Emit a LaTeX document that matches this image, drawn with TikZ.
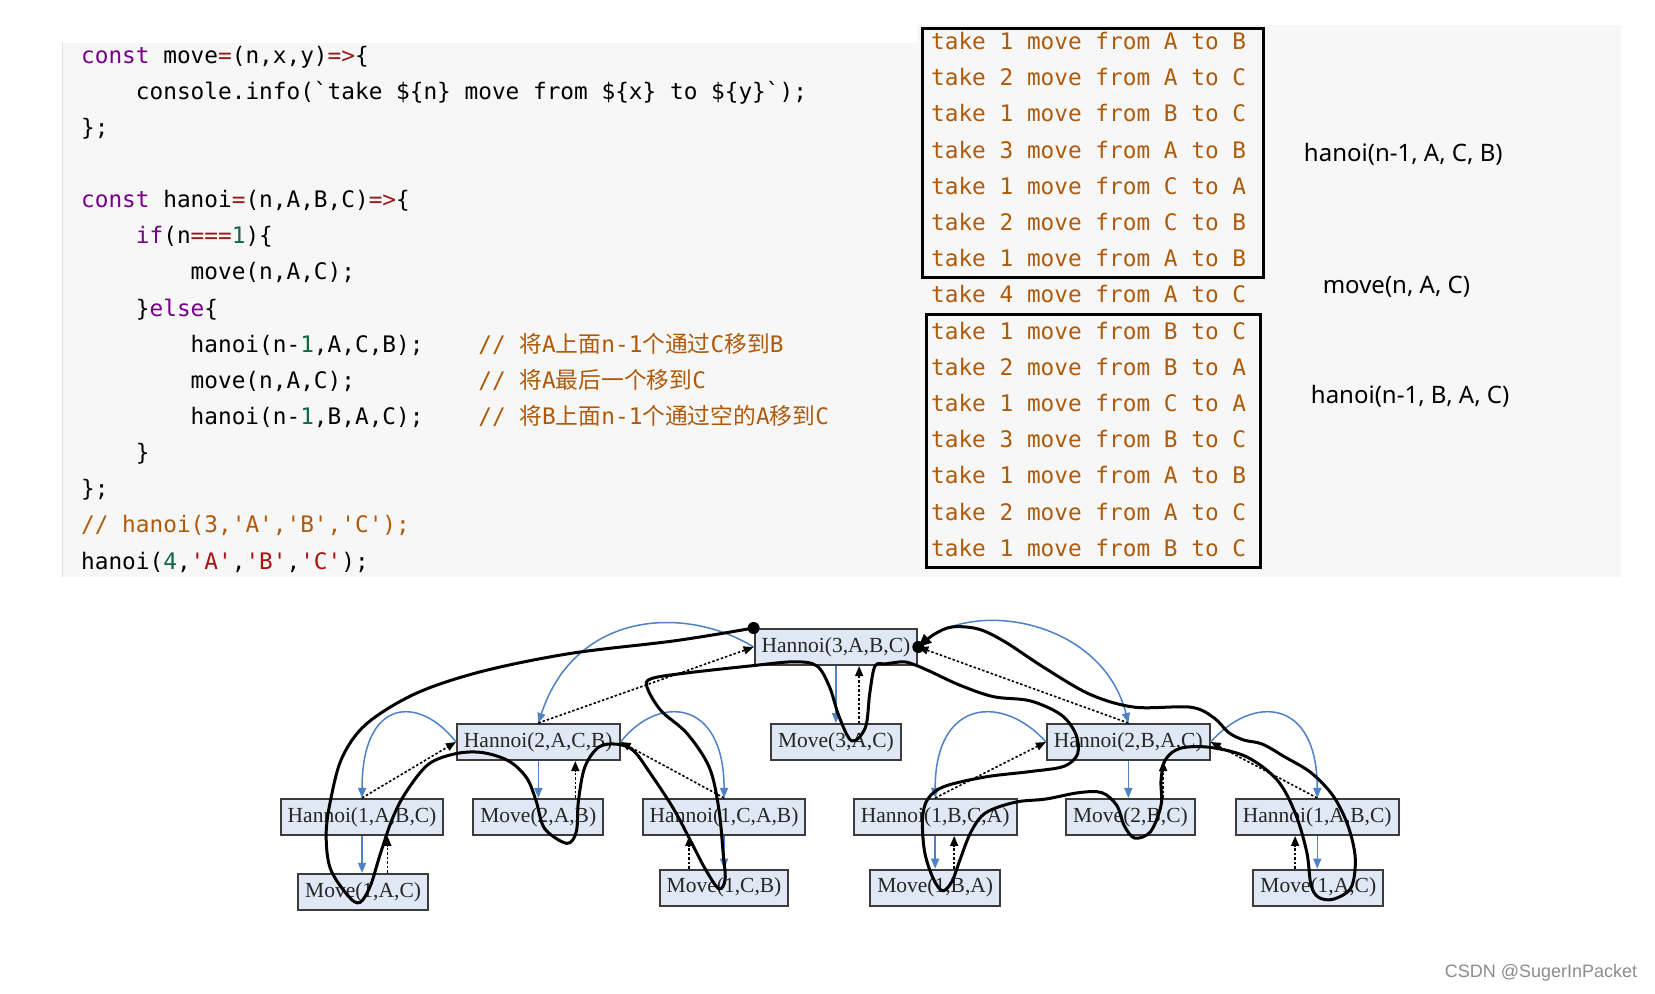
\documentclass[tikz,border=0pt]{standalone}
\usepackage{fontspec}
\setmainfont{Liberation Serif}
\setmonofont{DejaVu Sans Mono}
\newfontfamily\cjk{Noto Sans CJK SC}
\newfontfamily\uisans{Noto Sans}
\newfontfamily\wmfont{Liberation Sans}
\usetikzlibrary{arrows.meta,calc}
\definecolor{kwc}{RGB}{119,0,136}
\definecolor{opc}{RGB}{152,26,26}
\definecolor{numc}{RGB}{17,102,68}
\definecolor{strc}{RGB}{170,17,17}
\definecolor{cmc}{RGB}{175,90,10}
\definecolor{codebg}{RGB}{247,247,247}
\definecolor{nodefill}{RGB}{224,232,245}
\definecolor{nodeborder}{RGB}{60,60,60}
\definecolor{arrowblue}{RGB}{79,129,199}
\newcommand{\mycodefont}{\ttfamily\fontsize{22.75}{27}\selectfont}
\newcommand{\ckw}[1]{\textcolor{kwc}{#1}}
\newcommand{\cop}[1]{\textcolor{opc}{#1}}
\newcommand{\cnum}[1]{\textcolor{numc}{#1}}
\newcommand{\cstr}[1]{\textcolor{strc}{#1}}
\newcommand{\ccm}[1]{\textcolor{cmc}{#1}}
\begin{document}
\begin{tikzpicture}[x=1.0555pt, y=-1.0555pt,
  codeline/.style={anchor=base west, inner sep=0pt, font=\mycodefont},
  outline/.style={anchor=base west, inner sep=0pt, font=\mycodefont, text=cmc},
  consolebox/.style={draw=black, line width=3pt},
  sidelabel/.style={inner sep=0pt, font=\uisans\fontsize{24}{28}\selectfont},
  hnode/.style={draw=nodeborder, line width=2pt, fill=nodefill, text=black!85,
    font=\fontsize{21.5}{24}\selectfont, inner xsep=7pt, inner ysep=0pt, minimum height=36pt},
  bluearrow/.style={draw=arrowblue, line width=1.5pt, -{Triangle[length=10pt,width=8pt]}},
  retarrow/.style={draw=black, line width=1.6pt, dash pattern=on 2.5pt off 2pt, -{Triangle[length=10pt,width=8pt]}},
  tour/.style={draw=black, line width=3pt, line cap=round, line join=round},
  tourdot/.style={fill=black}
]
\useasboundingbox (0,0) rectangle (1568,941);
\fill[white] (0,0) rectangle (1568,941);
% code backgrounds
\fill[codebg] (58.7,40.7) rectangle (869,546.6);
\fill[codebg] (869,23.7) rectangle (1535.7,546.6);
\draw[black!12, line width=1.5pt] (59.2,40.7) -- (59.2,546.6);

% code lines
\node[codeline] (c1) at (76.7,59.7) {\ckw{const} move\cop{=}(n,x,y)\cop{=>}\{};
\node[codeline] (c2) at (128.6,93.95) {console.info(`take \$\{n\} move from \$\{x\} to \$\{y\}`);};
\node[codeline] (c3) at (76.7,128.2) {\};};
\node[codeline] (c5) at (76.7,196.7) {\ckw{const} hanoi\cop{=}(n,A,B,C)\cop{=>}\{};
\node[codeline] (c6) at (128.6,230.95) {\ckw{if}(n\cop{===}\cnum{1})\{};
\node[codeline] (c7) at (180.5,265.2) {move(n,A,C);};
\node[codeline] (c8) at (128.6,299.45) {\}\ckw{else}\{};
\node[codeline] (c9) at (180.5,333.7) {hanoi(n-\cnum{1},A,C,B);};
\node[codeline] (m9) at (453,333.7) {\ccm{// {\cjk 将}A{\cjk 上面}n-1{\cjk 个通过}C{\cjk 移到}B}};
\node[codeline] (c10) at (180.5,367.95) {move(n,A,C);};
\node[codeline] (m10) at (453,367.95) {\ccm{// {\cjk 将}A{\cjk 最后一个移到}C}};
\node[codeline] (c11) at (180.5,402.2) {hanoi(n-\cnum{1},B,A,C);};
\node[codeline] (m11) at (453,402.2) {\ccm{// {\cjk 将}B{\cjk 上面}n-1{\cjk 个通过空的}A{\cjk 移到}C}};
\node[codeline] (c12) at (128.6,436.45) {\}};
\node[codeline] (c13) at (76.7,470.7) {\};};
\node[codeline] (c14) at (76.7,504.95) {\ccm{// hanoi(3,'A','B','C');}};
\node[codeline] (c15) at (76.7,539.2) {hanoi(\cnum{4},\cstr{'A'},\cstr{'B'},\cstr{'C'});};

% console output
\node[outline] (o1) at (882,46.8) {take 1 move from A to B};
\node[outline] (o2) at (882,81.1) {take 2 move from A to C};
\node[outline] (o3) at (882,115.4) {take 1 move from B to C};
\node[outline] (o4) at (882,149.7) {take 3 move from A to B};
\node[outline] (o5) at (882,184.0) {take 1 move from C to A};
\node[outline] (o6) at (882,218.3) {take 2 move from C to B};
\node[outline] (o7) at (882,252.6) {take 1 move from A to B};
\node[outline] (o8) at (882,286.9) {take 4 move from A to C};
\node[outline] (o9) at (882,321.2) {take 1 move from B to C};
\node[outline] (o10) at (882,355.5) {take 2 move from B to A};
\node[outline] (o11) at (882,389.8) {take 1 move from C to A};
\node[outline] (o12) at (882,424.1) {take 3 move from B to C};
\node[outline] (o13) at (882,458.4) {take 1 move from A to B};
\node[outline] (o14) at (882,492.7) {take 2 move from A to C};
\node[outline] (o15) at (882,527.0) {take 1 move from B to C};
\draw[consolebox] (874,26.8) rectangle (1197.5,263);
\draw[consolebox] (878,298) rectangle (1194,538);

\node[sidelabel] (l1) at (1329.5,146) {hanoi(n-1, A, C, B)};
\node[sidelabel] (l2) at (1323,272) {move(n, A, C)};
\node[sidelabel] (l3) at (1336,375) {hanoi(n-1, B, A, C)};

% tree nodes
\node[hnode] (H3) at (792,613) {Hannoi(3,A,B,C)};
\node[hnode] (M3AC) at (792,703) {Move(3,A,C)};
\node[hnode] (H2ACB) at (510,703) {Hannoi(2,A,C,B)};
\node[hnode] (H2BAC) at (1069,703) {Hannoi(2,B,A,C)};
\node[hnode] (H1ABCL) at (343,774) {Hannoi(1,A,B,C)};
\node[hnode] (M2AB) at (510,774) {Move(2,A,B)};
\node[hnode] (H1CAB) at (686,774) {Hannoi(1,C,A,B)};
\node[hnode] (H1BCA) at (886,774) {Hannoi(1,B,C,A)};
\node[hnode] (M2BC) at (1071,774) {Move(2,B,C)};
\node[hnode] (H1ABCR) at (1248,774) {Hannoi(1,A,B,C)};
\node[hnode] (M1ACL) at (344,845) {Move(1,A,C)};
\node[hnode] (M1CB) at (686,841) {Move(1,C,B)};
\node[hnode] (M1BA) at (886,841) {Move(1,B,A)};
\node[hnode] (M1ACR) at (1249,841) {Move(1,A,C)};

% blue call arrows
\draw[bluearrow] (H3.west) .. controls +(-65,-40) and +(35,-106) .. (H2ACB.north);
\draw[bluearrow] (H3.south) -- (H3.south |- M3AC.north);
\draw[bluearrow] (H3.east) .. controls +(45,-48) and +(-25,-100) .. (H2BAC.north);
\draw[bluearrow] (H2ACB.west) .. controls +(-35,-45) and +(0,-95) .. (H1ABCL.north);
\draw[bluearrow] (H2ACB.south) -- (H2ACB.south |- M2AB.north);
\draw[bluearrow] (H2ACB.east) .. controls +(35,-45) and +(0,-95) .. (H1CAB.north);
\draw[bluearrow] (H1ABCL.south) -- (H1ABCL.south |- M1ACL.north);
\draw[bluearrow] (H1CAB.south) -- (H1CAB.south |- M1CB.north);
\draw[bluearrow] (H2BAC.west) .. controls +(-40,-45) and +(0,-95) .. (H1BCA.north);
\draw[bluearrow] (H2BAC.south) -- (H2BAC.south |- M2BC.north);
\draw[bluearrow] (H2BAC.east) .. controls +(40,-45) and +(0,-95) .. (H1ABCR.north);
\draw[bluearrow] (H1BCA.south) -- (H1BCA.south |- M1BA.north);
\draw[bluearrow] (H1ABCR.south) -- (H1ABCR.south |- M1ACR.north);

% dotted return arrows
\draw[retarrow] ([xshift=24.3pt]M1ACL.north) -- ([xshift=24.3pt]M1ACL.north |- H1ABCL.south);
\draw[retarrow] (H1ABCL.north) -- (H2ACB.west);
\draw[retarrow] ([xshift=37pt]M2AB.north) -- ([xshift=37pt]M2AB.north |- H2ACB.south);
\draw[retarrow] ([xshift=-34.8pt]M1CB.north) -- ([xshift=-34.8pt]M1CB.north |- H1CAB.south);
\draw[retarrow] (H1CAB.north) -- (H2ACB.east);
\draw[retarrow] (H2ACB.north) -- (H3.west);
\draw[retarrow] ([xshift=23.2pt]M3AC.north) -- ([xshift=23.2pt]M3AC.north |- H3.south);
\draw[retarrow] ([xshift=19pt]M1BA.north) -- ([xshift=19pt]M1BA.north |- H1BCA.south);
\draw[retarrow] (H1BCA.north) -- (H2BAC.west);
\draw[retarrow] ([xshift=32.7pt]M2BC.north) -- ([xshift=32.7pt]M2BC.north |- H2BAC.south);
\draw[retarrow] ([xshift=-23.2pt]M1ACR.north) -- ([xshift=-23.2pt]M1ACR.north |- H1ABCR.south);
\draw[retarrow] (H1ABCR.north) -- (H2BAC.east);
\draw[retarrow] (H2BAC.north) -- (H3.east);

% traversal path
\draw[tour, -{Triangle[length=13pt,width=11pt]}] plot[smooth, tension=0.55] coordinates {
 (H3.north west) (640,607) (541,619) (457,636) (394,657) (347,686) (324,718) (313,759)
 (309,791) (313,823) (330,849) (341,855) (351,839) (360,810) (372,775) (385,750) (406,724)
 (432,714) (457,713) (482,721) (499,737) (508,759) (516,785) (537,799) (546,788) (548,759)
 (554,727) (567,708) (584,705) (600,711) (617,734) (638,766) (655,798) (668,823) (681,842)
 (687,833) (685,807) (681,766) (672,727) (651,695) (626,673) (613,651) (617,643) (647,638)
 (710,631) (752,627) (774,631) (786,651) (795,679) (807,702) (820,689) (824,657) (829,631)
 (839,629) (856,627) (867,630) (881,636) (909,649) (941,660) (976,664) (1005,677) (1019,695)
 (1021,714) (1008,726) (976,731) (934,736) (895,745) (879,757) (874,776) (876,807) (884,832)
 (893,844) (902,835) (909,816) (920,788) (934,770) (962,760) (991,757) (1022,751) (1044,751)
 (1058,763) (1065,782) (1075,794) (1090,788) (1100,763) (1100,739) (1104,720) (1118,709)
 (1146,708) (1181,717) (1210,739) (1227,770) (1238,807) (1242,838) (1249,850) (1263,852)
 (1280,841) (1284,813) (1277,782) (1263,754) (1242,732) (1217,717) (1196,705) (1178,701)
 (1164,694) (1150,680) (1128,670) (1075,670) (1033,658) (990,633) (952,608) (927,596)
 (902,594) (885,601) (H3.east)};
\fill[tourdot] (H3.north west) circle (6pt);
\fill[tourdot] (H3.east) circle (6pt);

% watermark
\node[inner sep=0pt, font=\wmfont\fontsize{18}{20}\selectfont, text=black!45] (wm) at (1460,922) {CSDN @SugerInPacket};
\end{tikzpicture}
\end{document}
